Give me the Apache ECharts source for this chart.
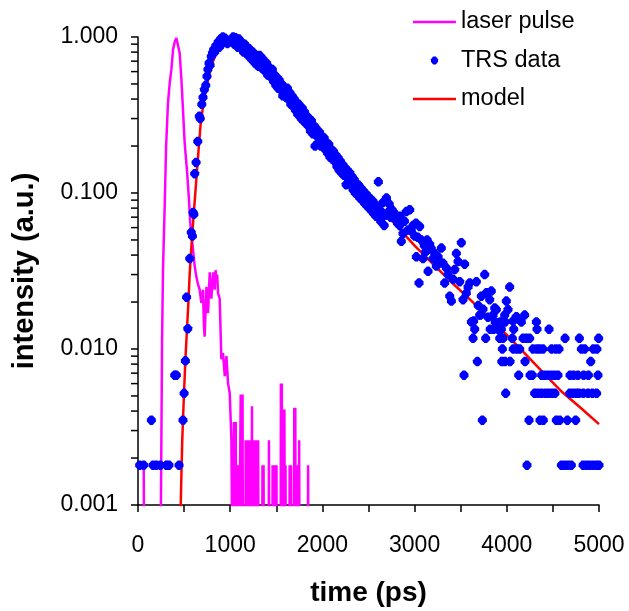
<!DOCTYPE html>
<html>
<head>
<meta charset="utf-8">
<script src="https://cdn.jsdelivr.net/npm/echarts@6/dist/echarts.min.js"></script>
<style>
html,body{margin:0;padding:0;background:#fff;}
#chart{width:629px;height:611px;}
</style>
</head>
<body>
<div id="chart"></div>
<script>
// ---------- data (time in ps, intensity normalised) ----------
const seriesNames = ['laser pulse', 'TRS data', 'model'];

const laserPulse = [
[0,0.0018],[62,0.0018],[72,0.0001],[235,0.0001],[250,0.0013],[261,0.0114],[271,0.032],[290,0.085],[305,0.2],
[325,0.377],[344,0.507],[362,0.617],[380,0.83],[398,0.93],[416,0.985],[434,0.96],[452,0.79],[471,0.53],
[488,0.34],[506,0.21],[531,0.14],[553,0.09],[566,0.065],[579,0.055],[597,0.043],[615,0.034],[633,0.029],
[651,0.026],[669,0.024],[687,0.0198],[705,0.024],[715,0.014],[723,0.012],[742,0.025],[752,0.02],[760,0.017],
[778,0.031],[787,0.024],[796,0.021],[814,0.031],[823,0.027],[832,0.024],[841,0.032],[850,0.028],[859,0.03],
[868,0.0228],[886,0.021],[904,0.0086],[922,0.0094],[941,0.0067],[959,0.009],[977,0.006],[995,0.0052],
[1013,0.0026],[1031,0.0001],[1040,0.0034],[1050,0.0034],[1056,0.0001],[1060,0.0034],[1067,0.0001],[1080,0.0001],
[1085,0.0018],[1090,0.0001],[1110,0.0001],[1114,0.0051],[1125,0.0051],[1130,0.0001],[1134,0.0051],[1140,0.0001],
[1165,0.0001],[1168,0.0026],[1173,0.0001],[1185,0.0001],[1190,0.0026],[1196,0.0001],[1202,0.0026],[1208,0.0001],
[1213,0.0026],[1218,0.0001],[1224,0.0026],[1230,0.0001],[1236,0.0043],[1242,0.0001],[1248,0.0026],[1254,0.0001],
[1262,0.0026],[1268,0.0001],[1278,0.0026],[1284,0.0001],[1298,0.0001],[1303,0.0026],[1308,0.0001],[1345,0.0001],
[1350,0.0018],[1355,0.0001],[1362,0.0018],[1368,0.0001],[1415,0.0001],[1420,0.0026],[1426,0.0001],[1455,0.0001],
[1460,0.0018],[1466,0.0001],[1472,0.0018],[1478,0.0001],[1490,0.0018],[1496,0.0001],[1502,0.0018],[1508,0.0001],
[1545,0.0001],[1550,0.006],[1556,0.0001],[1560,0.006],[1566,0.0001],[1583,0.0001],[1588,0.0041],[1594,0.0001],
[1600,0.0018],[1606,0.0001],[1640,0.0001],[1645,0.0018],[1651,0.0001],[1660,0.0018],[1666,0.0001],[1690,0.0001],
[1695,0.0042],[1701,0.0001],[1706,0.0042],[1712,0.0001],[1730,0.0001],[1735,0.0018],[1740,0.0001],[1748,0.0026],
[1754,0.0001],[1840,0.0001],[1845,0.0018],[1850,0.0001]
];

const trsData = [
[18,0.0018],[62,0.0018],[145,0.0035],[163,0.0018],[199,0.0018],[243,0.0018],[308,0.0018],[336,0.0018],
[398,0.0068],[416,0.0068],[445,0.0018],
[488,0.0035],[500,0.0052],[514,0.0084],[527,0.0215],[540,0.0135],[561,0.038],[578,0.056],[590,0.053],
[597,0.075],[606,0.073],[615,0.133],[630,0.157],[648,0.214],[665,0.31],[675,0.30],[692,0.37],[705,0.41],
[720,0.46],[735,0.49],[748,0.56],[758,0.62],[770,0.68],[782,0.66],[795,0.75],[808,0.79],[820,0.83],
[832,0.80],[845,0.88],[858,0.86],
[870,0.93],[882,0.86],[895,0.97],[907,0.90],[920,1.0],[932,0.93],[945,0.98],[957,1.03],[970,0.91],
[982,1.02],[995,0.95],[1007,1.03],[1020,0.93],[1032,1.0],[1045,0.90],[1057,0.99],[1070,0.94],[1082,0.86],
[1095,0.97],[1107,0.88],[1120,0.93],[1132,0.84],[1145,0.80],[1157,0.90],[1170,0.83],[1182,0.86],[1195,0.76],
[1207,0.84],[1220,0.78],[1232,0.72],[1245,0.80],[1257,0.74],[1270,0.68],[1282,0.76],[1295,0.66],
[1307,0.65],[1320,0.76],[1332,0.68],[1345,0.63],[1357,0.72],[1370,0.66],[1382,0.60],[1395,0.68],[1407,0.57],
[1420,0.64],[1432,0.59],[1445,0.55],[1457,0.62],[1470,0.52],[1482,0.57],[1495,0.49],[1507,0.55],[1520,0.47],
[1532,0.53],[1545,0.46],[1557,0.50],[1570,0.42],[1582,0.48],[1595,0.44],[1607,0.41],[1620,0.47],[1632,0.40],
[1645,0.44],[1657,0.37],[1670,0.42],[1682,0.36],[1695,0.40],[1707,0.34],[1720,0.38],[1732,0.32],[1745,0.37],
[1757,0.33],[1770,0.30],[1782,0.35],[1795,0.29],[1807,0.33],[1820,0.28],[1832,0.31],[1845,0.27],[1857,0.30],
[1870,0.25],[1882,0.29],[1895,0.24],[1907,0.27],[1920,0.20],[1932,0.26],[1945,0.23],[1957,0.21],[1970,0.245],
[1982,0.20],[1995,0.23],
[2007,0.20],[2020,0.225],[2032,0.19],[2045,0.21],[2057,0.18],[2070,0.205],[2082,0.17],[2095,0.19],[2107,0.165],
[2120,0.185],[2132,0.16],[2145,0.175],[2157,0.148],[2170,0.168],[2182,0.14],[2195,0.16],[2207,0.135],[2220,0.152],
[2232,0.13],[2245,0.145],[2257,0.113],[2270,0.14],[2282,0.12],[2295,0.135],[2307,0.113],[2320,0.128],[2332,0.105],
[2345,0.122],[2357,0.10],[2370,0.115],[2382,0.097],[2395,0.112],[2407,0.093],[2420,0.107],[2432,0.09],[2445,0.103],
[2457,0.086],[2470,0.099],[2482,0.083],[2495,0.095],[2507,0.08],[2520,0.092],[2532,0.077],[2545,0.089],[2557,0.074],
[2570,0.085],[2582,0.071],[2595,0.082],[2607,0.118],[2620,0.078],[2632,0.066],[2645,0.075],[2657,0.087],[2670,0.062],
[2682,0.072],
[2695,0.093],[2710,0.075],[2725,0.085],[2740,0.07],[2755,0.078],[2766,0.076],[2784,0.069],[2800,0.072],[2815,0.064],
[2838,0.062],[2845,0.071],[2856,0.049],[2874,0.055],[2890,0.066],[2911,0.076],[2929,0.058],[2947,0.078],[2965,0.057],
[2983,0.062],[3001,0.053],[3015,0.064],[3019,0.039],[3035,0.052],[3048,0.0265],[3055,0.061],[3073,0.05],[3091,0.038],
[3105,0.046],[3120,0.042],[3135,0.05],[3146,0.0315],[3164,0.047],[3182,0.044],[3200,0.038],[3218,0.041],[3236,0.034],
[3255,0.039],[3272,0.036],[3290,0.0444],[3308,0.0355],[3326,0.0265],[3345,0.033],[3363,0.03],[3381,0.0218],
[3399,0.0203],[3417,0.028],[3435,0.0323],[3453,0.041],[3471,0.0364],[3489,0.027],[3507,0.048],[3525,0.0207],
[3536,0.0068],[3543,0.035],[3561,0.0228],[3580,0.025],[3598,0.0265],[3616,0.0149],[3634,0.0117],[3640,0.0151],
[3652,0.0134],[3670,0.027],[3681,0.0083],[3690,0.019],[3706,0.0165],[3713,0.0165],[3724,0.0218],[3735,0.0035],
[3742,0.018],[3760,0.03],[3771,0.0117],[3778,0.0229],[3796,0.016],[3814,0.0207],[3820,0.0134],[3832,0.0235],
[3851,0.0165],[3858,0.0134],[3869,0.0183],[3875,0.0149],[3887,0.0179],[3905,0.0134],[3923,0.0117],[3928,0.0149],
[3941,0.0134],[3946,0.0083],[3952,0.01],[3959,0.0117],[3977,0.0165],[3980,0.0083],[3983,0.0149],[3988,0.0052],
[3995,0.0203],[4013,0.0179],[4031,0.025],[4035,0.0083],
[4060,0.0117],[4067,0.0151],[4070,0.01],[4075,0.0134],[4104,0.0161],[4108,0.01],[4129,0.0068],[4140,0.01],
[4158,0.0149],[4176,0.0117],[4194,0.0165],[4198,0.0083],[4212,0.0117],[4219,0.0018],[4241,0.0035],[4248,0.0117],
[4252,0.0068],[4277,0.0068],[4284,0.01],[4302,0.0052],[4321,0.0149],[4325,0.01],[4328,0.0134],[4338,0.0052],
[4357,0.01],[4360,0.0035],[4375,0.0052],[4378,0.0068],[4393,0.01],[4396,0.0035],[4411,0.0068],[4415,0.0052],
[4447,0.0068],[4450,0.0052],[4458,0.0134],[4483,0.0068],[4486,0.01],[4488,0.0052],[4519,0.0068],[4522,0.0052],
[4530,0.01],[4537,0.0035],[4555,0.0068],[4566,0.01],[4574,0.0035],[4592,0.0018],[4628,0.0018],[4632,0.0117],
[4657,0.0035],[4664,0.0018],[4682,0.0052],[4686,0.0068],[4700,0.0018],[4718,0.0052],[4725,0.0068],[4747,0.0035],
[4754,0.0052],[4772,0.0068],[4783,0.0052],[4787,0.0117],[4809,0.01],[4827,0.0018],[4830,0.0052],[4833,0.0068],
[4845,0.01],[4863,0.0018],[4881,0.0052],[4885,0.0068],[4899,0.0018],[4910,0.0083],[4928,0.0052],[4935,0.0018],
[4938,0.01],[4971,0.0018],[4974,0.0052],[4977,0.01],[4989,0.0068],[4996,0.0117],[5000,0.0018]
];

const modelCurve = [
[450,0.0001],[462,0.0009],[470,0.0015],[480,0.0026],[490,0.0038],[500,0.0054],[510,0.0075],[520,0.0100],
[530,0.0130],[545,0.019],[560,0.030],[580,0.046],[600,0.068],[620,0.097],[640,0.14],[660,0.20],[680,0.28],
[700,0.34],[725,0.42],[750,0.50],[775,0.58],[800,0.66],[830,0.74],[860,0.81],[900,0.88],[950,0.94],
[1000,0.97],[1050,0.975],[1100,0.95],[1150,0.90],[1200,0.84],[1300,0.72],[1400,0.62],[1500,0.53],[1600,0.45],
[1700,0.38],[1800,0.32],[1900,0.268],[2000,0.224],[2200,0.158],[2400,0.114],[2600,0.083],[2800,0.062],
[3000,0.046],[3200,0.035],[3400,0.0268],[3600,0.0208],[3800,0.0160],[4000,0.0123],[4200,0.0093],
[4400,0.0070],[4600,0.0053],[4800,0.0042],[5000,0.0033]
];

const yMinorTickValues = [0.002,0.003,0.004,0.005,0.006,0.007,0.008,0.009,
  0.02,0.03,0.04,0.05,0.06,0.07,0.08,0.09,0.2,0.3,0.4,0.5,0.6,0.7,0.8,0.9];

// ---------- chart ----------
const FONT = '"Liberation Sans", Arial, sans-serif';
const LINE_ICON = 'path://M0,0 L43,0 L43,2.5 L0,2.5 Z';
const DOT_ICON = 'path://M2.5,0 L5.5,0 L8,3 L8,6 L5.5,9 L2.5,9 L0,6 L0,3 Z';
const MARKER = 'path://M2.8,0 L5.2,0 L8,3.2 L8,5.8 L5.2,9 L2.8,9 L0,5.8 L0,3.2 Z';

const chart = echarts.init(document.getElementById('chart'), null, {renderer: 'canvas'});
chart.setOption({
  animation: false,
  backgroundColor: '#ffffff',
  textStyle: {fontFamily: FONT, color: '#000'},
  grid: {left: 138, top: 37, width: 461, height: 468, containLabel: false, outerBoundsMode: 'none'},
  legend: {
    orient: 'vertical', left: 413, top: 10, padding: 0,
    itemWidth: 43, itemHeight: 8, itemGap: 14.5,
    data: [
      {name: seriesNames[0], icon: LINE_ICON},
      {name: seriesNames[1], icon: DOT_ICON},
      {name: seriesNames[2], icon: LINE_ICON}
    ],
    textStyle: {fontFamily: FONT, fontSize: 23.5, color: '#000', lineHeight: 24}
  },
  xAxis: {
    type: 'value', min: 0, max: 5000, interval: 1000,
    name: 'time (ps)', nameLocation: 'middle', nameGap: 74,
    nameTextStyle: {fontFamily: FONT, fontSize: 28, fontWeight: 'bold', color: '#000'},
    axisLine: {show: true, onZero: false, lineStyle: {color: '#000', width: 1.5}},
    axisTick: {show: true, inside: false, length: 7, lineStyle: {color: '#000', width: 1.5}},
    minorTick: {show: true, splitNumber: 2, length: 7, lineStyle: {color: '#000', width: 1.5}},
    axisLabel: {fontFamily: FONT, fontSize: 23, color: '#000', margin: 29,
      formatter: v => String(v)},
    splitLine: {show: false}, minorSplitLine: {show: false}
  },
  yAxis: {
    type: 'log', logBase: 10, min: 0.001, max: 1,
    name: 'intensity (a.u.)', nameLocation: 'middle', nameGap: 99,
    nameTextStyle: {fontFamily: FONT, fontSize: 29, fontWeight: 'bold', color: '#000'},
    axisLine: {show: true, lineStyle: {color: '#000', width: 1.5}},
    axisTick: {show: true, inside: false, length: 7, lineStyle: {color: '#000', width: 1.5}},
    axisLabel: {fontFamily: FONT, fontSize: 23, color: '#000', margin: 20,
      formatter: v => Number(v).toFixed(3)},
    splitLine: {show: false}
  },
  series: [
    {
      name: seriesNames[0], type: 'line', data: laserPulse,
      symbol: 'none', showSymbol: false, clip: true, z: 2,
      lineStyle: {color: '#FF00FF', width: 2.5}, itemStyle: {color: '#FF00FF'}
    },
    {
      name: seriesNames[2], type: 'line', data: modelCurve,
      symbol: 'none', showSymbol: false, clip: true, z: 3,
      lineStyle: {color: '#FF0000', width: 2.5}, itemStyle: {color: '#FF0000'}
    },
    {
      name: seriesNames[1], type: 'scatter', data: trsData,
      symbol: MARKER, symbolSize: [9, 9.5], symbolKeepAspect: false, z: 4,
      itemStyle: {color: '#0000FF', opacity: 1}
    },
    {
      type: 'custom', silent: true, z: 5,
      data: yMinorTickValues.map(v => [0, v]),
      encode: {x: 0, y: 1},
      renderItem: function (params, api) {
        const p = api.coord([api.value(0), api.value(1)]);
        return {
          type: 'line',
          shape: {x1: p[0] - 7, y1: p[1], x2: p[0], y2: p[1]},
          style: {stroke: '#000', lineWidth: 1.5}
        };
      }
    }
  ]
});
</script>
</body>
</html>
